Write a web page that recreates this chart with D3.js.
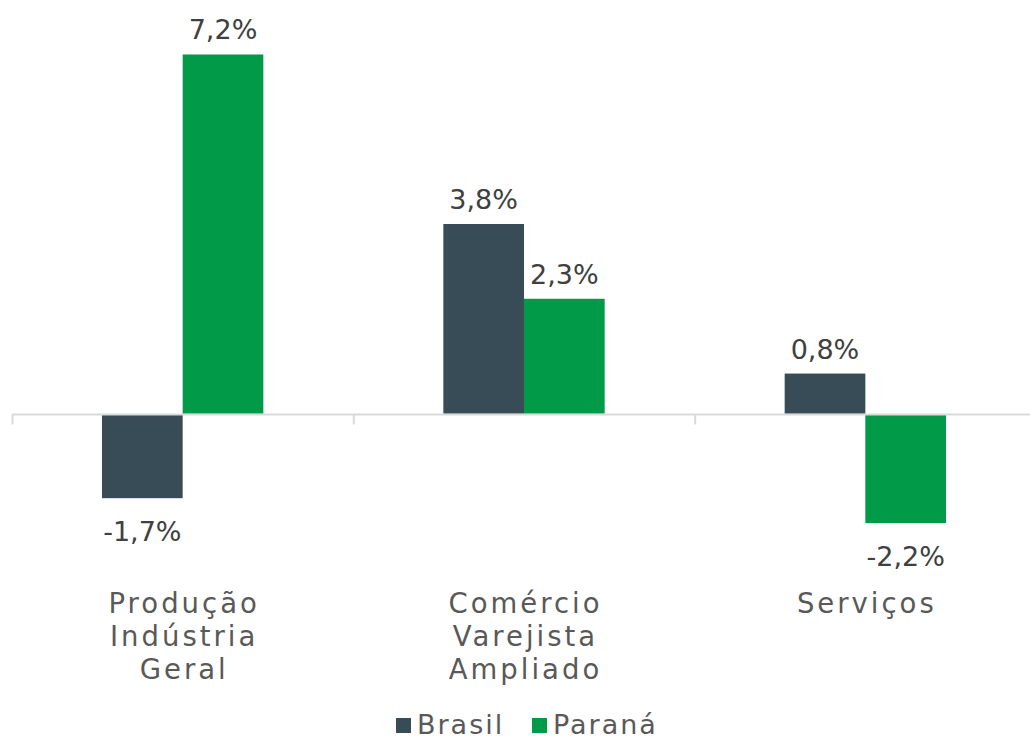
<!DOCTYPE html>
<html>
<head>
<meta charset="utf-8">
<script src="https://cdn.jsdelivr.net/npm/d3@7"></script>
<style>
  body { margin: 0; background: #fff; }
  text { font-family: "DejaVu Sans", sans-serif; }
</style>
</head>
<body>
<div id="chart"></div>
<script>
// DATA
var categories = [["Produção", "Indústria", "Geral"], ["Comércio", "Varejista", "Ampliado"], ["Serviços"]];
var seriesNames = ["Brasil", "Paraná"];
var brasil = [-1.7, 3.8, 0.8];
var parana = [7.2, 2.3, -2.2];
var colors = ["#374c57", "#009a49"];

var w = 1030;
var h = 741;

var svg = d3.select("#chart").append("svg").attr("width", w).attr("height", h);

// SCALES
var x0 = d3.scaleBand()
  .domain(d3.range(categories.length))
  .range([12, 1036]);
var x1 = d3.scaleBand()
  .domain(seriesNames)
  .range([90, x0.bandwidth() - 90]);
var y = d3.scaleLinear()
  .domain([-3, 8])
  .range([563, 14.6]);

var fmt = function (v) { return v.toFixed(1).replace(".", ",") + "%"; };

var rows = categories.map(function (c, i) {
  return [{s: "Brasil", v: brasil[i], c: colors[0]}, {s: "Paraná", v: parana[i], c: colors[1]}];
});

// AXIS (zero line with ticks between categories)
var axis = svg.append("g").attr("transform", "translate(0," + (y(0) + 1) + ")");
axis.append("line")
  .attr("x1", 12).attr("x2", w)
  .attr("stroke", "#d9d9d9").attr("stroke-width", 2);
axis.selectAll("line.tick")
  .data(d3.range(categories.length))
  .enter()
  .append("line")
  .attr("class", "tick")
  .attr("x1", function (i) { return x0(i) + 0.5; })
  .attr("x2", function (i) { return x0(i) + 0.5; })
  .attr("y1", 0).attr("y2", 10)
  .attr("stroke", "#d9d9d9").attr("stroke-width", 2);

// bars
var groups = svg.selectAll("g.cat")
  .data(rows)
  .enter()
  .append("g")
  .attr("class", "cat")
  .attr("transform", function (d, i) { return "translate(" + x0(i) + ",0)"; });

groups.selectAll("rect")
  .data(function (d) { return d; })
  .enter()
  .append("rect")
  .attr("x", function (d) { return x1(d.s); })
  .attr("width", x1.bandwidth())
  .attr("y", function (d) { return d.v >= 0 ? y(d.v) : y(0) + 2; })
  .attr("height", function (d) { return d.v >= 0 ? y(0) - y(d.v) : y(d.v) - y(0) - 2; })
  .attr("fill", function (d) { return d.c; });

// value labels
groups.selectAll("text.val")
  .data(function (d) { return d; })
  .enter()
  .append("text")
  .attr("class", "val")
  .attr("x", function (d) { return x1(d.s) + x1.bandwidth() / 2; })
  .attr("y", function (d) { return d.v >= 0 ? y(d.v) - 15 : y(d.v) + 43; })
  .attr("text-anchor", "middle")
  .attr("font-size", "27px")
  .attr("fill", "#404040")
  .text(function (d) { return fmt(d.v); });

// category labels
var catLabels = svg.selectAll("g.catlab")
  .data(categories)
  .enter()
  .append("g")
  .attr("class", "catlab")
  .attr("transform", function (d, i) { return "translate(" + (x0(i) + x0.bandwidth() / 2) + ",613)"; });
catLabels.selectAll("text")
  .data(function (d) { return d; })
  .enter()
  .append("text")
  .attr("x", 1.5)
  .attr("y", function (d, j) { return j * 33; })
  .attr("text-anchor", "middle")
  .attr("font-size", "27.5px")
  .attr("letter-spacing", "3px")
  .attr("fill", "#595959")
  .text(function (d) { return d; });

// LEGEND
var legendX = [396, 532];
var legend = svg.selectAll("g.legend")
  .data(seriesNames)
  .enter()
  .append("g")
  .attr("class", "legend")
  .attr("transform", function (d, i) { return "translate(" + legendX[i] + ",0)"; });
legend.append("rect")
  .attr("x", 0).attr("y", 718)
  .attr("width", 15).attr("height", 15)
  .attr("fill", function (d, i) { return colors[i]; });
legend.append("text")
  .attr("x", 21).attr("y", 734)
  .attr("font-size", "27px")
  .attr("letter-spacing", "2px")
  .attr("fill", "#595959")
  .text(function (d) { return d; });
</script>
</body>
</html>
